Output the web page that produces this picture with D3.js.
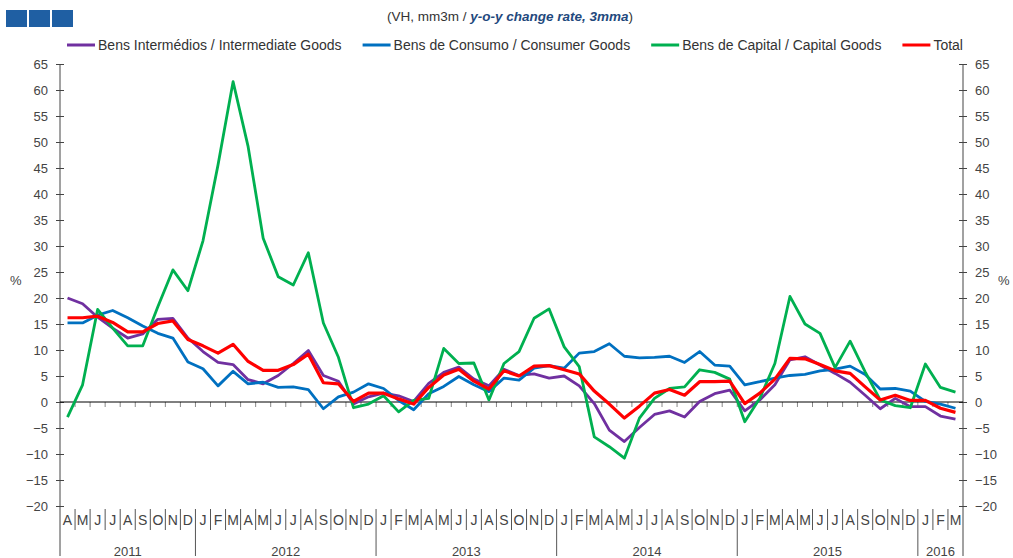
<!DOCTYPE html>
<html>
<head>
<meta charset="utf-8">
<script src="https://cdn.jsdelivr.net/npm/d3@7/dist/d3.min.js"></script>
<style>
  body { margin: 0; background: #fff; }
  svg { display: block; font-family: "Liberation Sans", Arial, sans-serif; }
</style>
</head>
<body>
<svg id="chart" width="1013" height="558"></svg>
<script>
// months from Apr 2011 to Mar 2016
var monthLabels = ["A","M","J","J","A","S","O","N","D",
  "J","F","M","A","M","J","J","A","S","O","N","D",
  "J","F","M","A","M","J","J","A","S","O","N","D",
  "J","F","M","A","M","J","J","A","S","O","N","D",
  "J","F","M","A","M","J","J","A","S","O","N","D",
  "J","F","M"];
var yearLabels = ["2011", "2012", "2013", "2014", "2015", "2016"];
var yearMonths = [9, 12, 12, 12, 12, 3];
var yTicks = [-20,-15,-10,-5,0,5,10,15,20,25,30,35,40,45,50,55,60,65];

var intermediate = [20.0, 18.9, 16.3, 14.2, 12.3, 13.1, 15.9, 16.1, 12.3, 9.7, 7.6, 7.2, 4.3, 3.5, 5.1,
  7.4, 9.9, 5.1, 4.0, -0.4, 1.0, 1.7, 1.2, 0.1, 3.6, 5.7, 6.7, 4.4, 3.1, 6.3,
  5.1, 5.4, 4.6, 5.0, 3.1, -0.3, -5.4, -7.6, -4.9, -2.4, -1.7, -2.9, 0.1, 1.6, 2.3,
  -1.7, 0.4, 3.3, 8.1, 8.7, 7.1, 5.5, 3.8, 1.3, -1.3, 0.7, -0.9, -0.9, -2.7, -3.3];
var consumer = [15.2, 15.2, 16.7, 17.6, 16.2, 14.6, 13.2, 12.3, 7.7, 6.4, 3.1, 5.9, 3.5, 3.8, 2.8,
  2.9, 2.4, -1.3, 1.0, 1.9, 3.5, 2.6, 0.3, -1.5, 1.6, 3.0, 4.9, 3.3, 2.0, 4.6,
  4.2, 6.5, 7.0, 6.5, 9.4, 9.7, 11.2, 8.8, 8.5, 8.6, 8.8, 7.6, 9.7, 7.1, 6.9,
  3.3, 3.9, 4.6, 5.1, 5.3, 6.0, 6.3, 6.9, 5.3, 2.5, 2.6, 2.1, 0.1, -0.4, -1.2];
var capital = [-2.9, 3.3, 17.8, 14.2, 10.8, 10.8, 18.3, 25.4, 21.4, 31.0, 45.6, 61.6, 49.1, 31.5, 24.1,
  22.5, 28.7, 15.2, 8.6, -1.1, -0.4, 1.2, -1.9, 0.3, 0.7, 10.3, 7.4, 7.5, 0.4, 7.4,
  9.7, 16.1, 17.9, 10.6, 6.8, -6.7, -8.6, -10.8, -3.1, 0.7, 2.6, 2.9, 6.2, 5.7, 4.4,
  -3.8, 0.7, 7.4, 20.3, 15.0, 13.2, 6.6, 11.7, 5.8, 0.4, -0.7, -1.1, 7.3, 2.8, 1.9];
var total = [16.2, 16.2, 16.5, 15.3, 13.5, 13.5, 15.1, 15.6, 12.0, 10.8, 9.4, 11.1, 7.8, 6.1, 6.1,
  7.2, 9.2, 3.7, 3.5, 0.1, 1.7, 1.7, 0.6, -0.4, 2.8, 5.2, 6.3, 4.0, 2.5, 6.0,
  5.0, 6.9, 7.0, 6.2, 5.4, 2.1, -0.4, -3.1, -0.8, 1.7, 2.4, 1.3, 3.9, 3.9, 4.0,
  -0.3, 1.7, 4.4, 8.4, 8.3, 7.2, 6.0, 5.5, 2.9, 0.4, 1.3, 0.3, 0.3, -1.2, -2.0];

var seriesNames = ["Bens Intermédios / Intermediate Goods", "Bens de Consumo / Consumer Goods",
  "Bens de Capital / Capital Goods", "Total"];
var seriesColors = ["#7030a0", "#0070c0", "#00b050", "#ff0000"];
var seriesValues = [intermediate, consumer, capital, total];

var plotLeft = 60, plotRight = 963, plotTop = 64, plotBottom = 506;
var svg = d3.select("#chart");

var x = d3.scaleBand().domain(d3.range(monthLabels.length)).range([plotLeft, plotRight]).paddingInner(0).paddingOuter(0);
var y = d3.scaleLinear().domain([-20, 65]).range([plotBottom, plotTop]);
var bw = x.bandwidth();

// top-left blue blocks
svg.selectAll("rect.block").data([0, 1, 2]).enter().append("rect")
  .attr("x", d => 6 + d * 23).attr("y", 10).attr("width", 21).attr("height", 17)
  .attr("fill", "#1f5fa3");

// title
var title = svg.append("text").attr("x", 510).attr("y", 21)
  .attr("text-anchor", "middle").style("font-size", "13.5px").attr("fill", "#333");
title.append("tspan").text("(VH, mm3m / ");
title.append("tspan").text("y-o-y change rate, 3mma")
  .style("font-weight", "bold").style("font-style", "italic").attr("fill", "#1f497d");
title.append("tspan").text(")");

// legend
var legend = svg.append("g");
var lx = 0, gap = 21;
seriesNames.forEach(function(name, i) {
  var g = legend.append("g").attr("transform", "translate(" + lx + ",0)");
  g.append("line").attr("x1", 0).attr("x2", 28).attr("y1", 45).attr("y2", 45)
    .attr("stroke", seriesColors[i]).attr("stroke-width", 3);
  var t = g.append("text").attr("x", 31).attr("y", 50).style("font-size", "14px")
    .attr("fill", "#333").text(name);
  lx += 31 + t.node().getComputedTextLength() + gap;
});
legend.attr("transform", "translate(" + (515 - (lx - gap) / 2) + ",0)");

// y axes
var yAxisL = d3.axisLeft(y).tickValues(yTicks).tickSize(4).tickPadding(8);
var yAxisR = d3.axisRight(y).tickValues(yTicks).tickSize(4).tickPadding(8);
var gl = svg.append("g").attr("transform", "translate(" + plotLeft + ",0)").call(yAxisL);
var gr = svg.append("g").attr("transform", "translate(" + plotRight + ",0)").call(yAxisR);
[gl, gr].forEach(function(g) {
  g.select(".domain").remove();
  g.selectAll(".tick line").attr("x1", -4).attr("x2", 4).attr("stroke", "#444");
  g.selectAll(".tick text").style("font-size", "13px").attr("fill", "#444").attr("font-family", null);
});
svg.append("line").attr("x1", plotLeft).attr("x2", plotLeft).attr("y1", plotTop).attr("y2", 556).attr("stroke", "#444");
svg.append("line").attr("x1", plotRight).attr("x2", plotRight).attr("y1", plotTop).attr("y2", 556).attr("stroke", "#444");

svg.append("text").attr("x", 10).attr("y", 285).style("font-size", "13px").attr("fill", "#444").text("%");
svg.append("text").attr("x", 998).attr("y", 285).style("font-size", "13px").attr("fill", "#444").text("%");

// zero line with month ticks
var bounds = d3.range(1, monthLabels.length);
svg.selectAll("line.ztick").data(bounds).enter().append("line")
  .attr("x1", d => x(d)).attr("x2", d => x(d))
  .attr("y1", y(0)).attr("y2", y(0) + 5)
  .attr("stroke", "#888").attr("stroke-width", 1);
svg.append("line").attr("x1", plotLeft).attr("x2", plotRight).attr("y1", y(0)).attr("y2", y(0))
  .attr("stroke", "#000").attr("stroke-width", 1);

// month labels row
var gx = svg.append("g").attr("transform", "translate(0,510)")
  .call(d3.axisBottom(x).tickSize(0).tickPadding(5).tickFormat(i => monthLabels[i]));
gx.select(".domain").remove();
gx.selectAll(".tick text").style("font-size", "14px").attr("fill", "#444").attr("font-family", null);

var yearStart = [];
var acc = 0;
yearMonths.forEach(function(n) { yearStart.push(acc); acc += n; });
var yearSet = new Set(yearStart);
svg.selectAll("line.msep").data(bounds).enter().append("line")
  .attr("x1", d => x(d)).attr("x2", d => x(d))
  .attr("y1", 509).attr("y2", d => yearSet.has(d) ? 556 : 530)
  .attr("stroke", "#555").attr("stroke-width", 1);

svg.selectAll("text.year").data(yearLabels).enter().append("text")
  .attr("x", (d, i) => (x(yearStart[i]) + x(yearStart[i] + yearMonths[i] - 1) + bw) / 2)
  .attr("y", 556).attr("text-anchor", "middle")
  .style("font-size", "13px").attr("fill", "#444").text(d => d);

// series lines
var line = d3.line().x((d, i) => x(i) + bw / 2).y(d => y(d));
svg.selectAll("path.series").data(seriesValues).enter().append("path")
  .attr("fill", "none")
  .attr("stroke", (d, i) => seriesColors[i])
  .attr("stroke-width", (d, i) => i === 3 ? 3.2 : 2.8)
  .attr("stroke-linejoin", "round")
  .attr("d", line);
</script>
</body>
</html>
